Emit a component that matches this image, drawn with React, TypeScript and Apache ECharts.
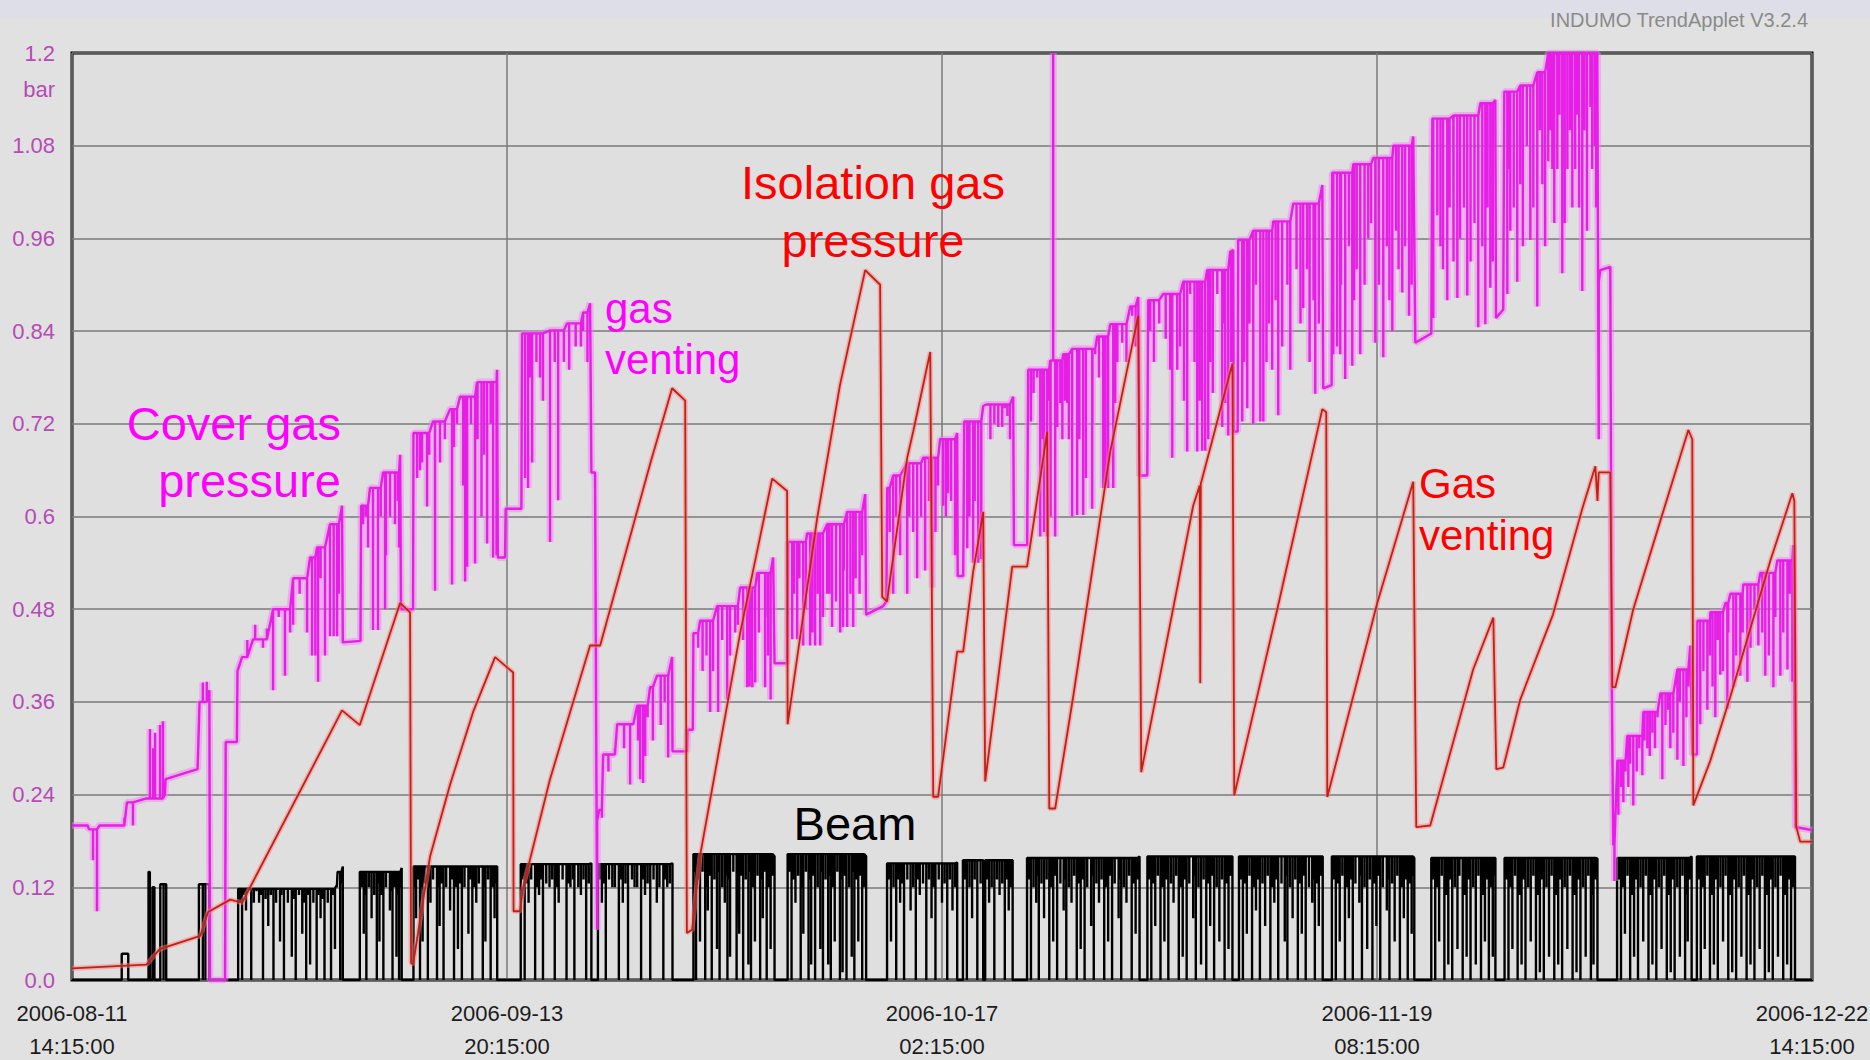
import React, { useEffect, useRef } from "react";
import * as echarts from "echarts";

// ---- axis labels ----
const xTickLabels = [
  "2006-08-11\n14:15:00",
  "2006-09-13\n20:15:00",
  "2006-10-17\n02:15:00",
  "2006-11-19\n08:15:00",
  "2006-12-22\n14:15:00",
];
const yTickLabels = ["0.0", "0.12", "0.24", "0.36", "0.48", "0.6", "0.72", "0.84", "0.96", "1.08", "1.2"];

// x values are days since 2006-08-11 14:15:00, y values are bar
// ---- Isolation gas pressure (red) ----
const isolation: [number, number][] = [
  [0, 0.015], [5.7, 0.02], [6.7, 0.04], [9.8, 0.057], [10.4, 0.088], [12.1, 0.104], [13.0, 0.1],
  [20.64, 0.349], [22.0, 0.33], [25.08, 0.488], [25.84, 0.476], [25.92, 0.022], [26.07, 0.02],
  [27.37, 0.16], [28.9, 0.253], [30.66, 0.347], [32.34, 0.418], [33.72, 0.398], [33.75, 0.089],
  [34.25, 0.089], [34.48, 0.12], [36.54, 0.26], [39.6, 0.433], [40.37, 0.433], [44.19, 0.668],
  [45.87, 0.766], [46.87, 0.75], [47.0, 0.061], [47.4, 0.065], [48.0, 0.16], [51.07, 0.449],
  [53.52, 0.649], [54.66, 0.633], [54.7, 0.331], [56.96, 0.598], [58.7, 0.77], [60.63, 0.919],
  [61.77, 0.9], [61.93, 0.496], [62.3, 0.49], [62.54, 0.52], [63.84, 0.676], [64.3, 0.71],
  [65.6, 0.813], [65.83, 0.237], [66.2, 0.237], [67.66, 0.425], [68.12, 0.425], [68.88, 0.528],
  [69.65, 0.606], [69.8, 0.257], [71.87, 0.535], [73.0, 0.535], [74.54, 0.71], [74.7, 0.222],
  [75.15, 0.222], [76.53, 0.367], [79.36, 0.684], [81.5, 0.86], [81.73, 0.269], [85.7, 0.614],
  [86.2, 0.64], [86.24, 0.384], [86.28, 0.642], [88.7, 0.798], [88.84, 0.239], [92.13, 0.48],
  [95.57, 0.739], [95.87, 0.735], [95.95, 0.237], [99.77, 0.488], [102.52, 0.645], [102.75, 0.198],
  [103.82, 0.2], [107.1, 0.402], [108.64, 0.469], [108.87, 0.273], [109.4, 0.275], [110.7, 0.363],
  [113.2, 0.473], [115.44, 0.61], [116.44, 0.665], [116.6, 0.62], [116.7, 0.657], [117.58, 0.657],
  [117.74, 0.379], [117.97, 0.379], [119.34, 0.48], [121.4, 0.594], [123.55, 0.712], [123.85, 0.7],
  [123.93, 0.226], [125.23, 0.284], [126.76, 0.367], [129.82, 0.543], [131.5, 0.63], [131.65, 0.62],
  [131.8, 0.198], [132.1, 0.179], [133, 0.179],
];

// ---- Cover gas pressure (magenta): running level and short excursions ----
const coverLevel: [number, number][] = [
  [0, 0.2], [1.2, 0.2], [1.3, 0.195], [2.1, 0.2], [4.2, 0.23], [5.7, 0.235], [7.1, 0.24], [7.15, 0.26],
  [9.6, 0.273], [9.75, 0.36], [10.5, 0.375], [10.55, 0], [11.7, 0], [11.75, 0.308], [12.6, 0.308],
  [12.65, 0.4], [13.0, 0.418], [13.84, 0.441], [15.37, 0.48], [16.9, 0.52], [18.2, 0.547], [18.73, 0.56],
  [19.72, 0.59], [20.64, 0.614], [20.7, 0.437], [22.05, 0.439],
  [22.1, 0.614], [22.78, 0.637], [23.78, 0.657], [25.08, 0.68], [25.15, 0.48], [26.07, 0.48],
  [26.1, 0.708], [27.6, 0.723], [28.9, 0.739], [29.66, 0.755], [30.96, 0.774], [32.49, 0.79],
  [32.55, 0.547], [33.1, 0.547], [33.15, 0.61], [34.35, 0.61],
  [34.4, 0.837], [36.54, 0.841], [37.84, 0.85], [39.07, 0.864], [39.6, 0.876], [39.7, 0.657],
  [39.98, 0.657], [40.1, 0.206], [40.3, 0.22], [40.6, 0.292], [41.67, 0.331], [43.2, 0.355],
  [44.19, 0.379], [44.72, 0.394], [45.87, 0.418], [45.9, 0.296], [47.0, 0.296], [47.05, 0.324],
  [47.45, 0.324], [47.5, 0.449], [48.01, 0.465], [49.31, 0.484], [51.07, 0.508], [52.37, 0.527],
  [53.59, 0.547], [53.7, 0.41], [54.66, 0.41],
  [54.74, 0.567], [56.19, 0.578], [57.72, 0.59], [59.25, 0.606], [60.63, 0.629], [60.7, 0.473],
  [62.0, 0.484], [62.25, 0.49], [62.31, 0.637], [62.77, 0.653], [63.84, 0.669], [65.06, 0.676],
  [66.36, 0.7], [67.66, 0.708], [67.7, 0.523], [68.12, 0.523], [68.2, 0.723], [69.65, 0.743],
  [69.9, 0.745], [71.94, 0.755], [72.0, 0.563], [73.01, 0.563],
  [73.09, 0.79], [74.77, 0.802], [75.76, 0.81], [76.45, 0.817], [78.36, 0.833], [79.36, 0.849],
  [80.89, 0.872], [81.5, 0.884], [81.6, 0.653], [82.19, 0.653],
  [82.26, 0.88], [83.41, 0.888], [84.94, 0.904], [86.77, 0.919], [88.53, 0.943], [88.76, 0.945],
  [88.8, 0.71], [89.1, 0.71], [89.14, 0.958], [90.29, 0.97], [91.82, 0.982], [93.35, 1.005],
  [95.57, 1.029], [95.64, 0.766], [96.28, 0.77], [96.33, 1.045], [97.94, 1.056], [99.46, 1.064],
  [101.0, 1.08], [102.52, 1.092], [102.68, 0.825], [103.9, 0.837], [103.98, 1.115], [105.58, 1.119],
  [107.65, 1.135], [108.79, 1.139], [108.85, 0.857], [109.4, 0.868], [109.48, 1.15], [110.7, 1.158],
  [112.0, 1.175], [112.84, 1.2], [116.59, 1.2], [116.65, 0.904], [116.82, 0.919], [117.58, 0.923],
  [117.7, 0.379], [117.81, 0.175], [118.12, 0.284], [118.88, 0.316], [120.11, 0.347], [121.41, 0.371],
  [122.71, 0.402], [123.7, 0.433], [123.85, 0.292], [124.2, 0.292], [124.24, 0.465], [125.23, 0.476],
  [126.38, 0.488], [126.76, 0.5], [127.75, 0.512], [129.05, 0.527], [130.35, 0.543], [131.57, 0.563],
  [131.73, 0.198], [133, 0.194],
];
const coverSpikes: [number, number][] = [
  [1.61, 0.155], [1.91, 0.089], [4.0, 0.21], [4.66, 0.2],
  [5.96, 0.325], [6.2, 0.3], [6.35, 0.32], [6.73, 0.33], [6.95, 0.335], [10.0, 0.385], [10.3, 0.386],
  [14.6, 0.43], [15.37, 0.375], [16.28, 0.394], [16.67, 0.45], [16.9, 0.46], [17.97, 0.45], [18.35, 0.42],
  [18.6, 0.42], [18.81, 0.386], [19.34, 0.42], [19.72, 0.445], [20.0, 0.445], [20.26, 0.445],
  [22.25, 0.59], [22.63, 0.56], [23.01, 0.453], [23.39, 0.453], [23.93, 0.48], [24.31, 0.6], [24.69, 0.59], [25.0, 0.56],
  [26.38, 0.65], [26.76, 0.67], [27.14, 0.613], [27.75, 0.504], [28.13, 0.67], [29.05, 0.512], [29.43, 0.72],
  [30.05, 0.516], [30.2, 0.535], [30.81, 0.539], [31.3, 0.6], [31.73, 0.565], [32.19, 0.547], [32.45, 0.55],
  [34.63, 0.65], [34.86, 0.637], [35.17, 0.67], [35.78, 0.78], [36.54, 0.567], [37.16, 0.621], [37.6, 0.8],
  [38.5, 0.82], [39.07, 0.84],
  [40.14, 0.065], [40.5, 0.21], [42.66, 0.253], [43.27, 0.31], [43.43, 0.26], [43.65, 0.255], [43.81, 0.29],
  [45.0, 0.33], [45.57, 0.288],
  [47.86, 0.43], [48.78, 0.347], [49.39, 0.347], [50.08, 0.363], [50.69, 0.45], [51.61, 0.379], [51.8, 0.38],
  [51.9, 0.4], [52.0, 0.379], [52.22, 0.385], [52.98, 0.379], [53.4, 0.363],
  [55.05, 0.441], [55.43, 0.441], [55.89, 0.433], [56.42, 0.433], [56.6, 0.45], [56.8, 0.433], [57.19, 0.433],
  [57.72, 0.5], [58.1, 0.457], [58.72, 0.45], [58.94, 0.457], [59.25, 0.457], [59.71, 0.457], [60.2, 0.5],
  [62.77, 0.5], [63.84, 0.5], [64.6, 0.52], [65.21, 0.53], [65.75, 0.508], [66.59, 0.614], [66.97, 0.63], [67.5, 0.55],
  [68.43, 0.559], [68.88, 0.54], [69.27, 0.54], [69.5, 0.545], [70.8, 0.716], [71.1, 0.716], [71.5, 0.73],
  [73.3, 0.723], [73.78, 0.78], [74.01, 0.574], [74.3, 0.58], [74.54, 0.574], [74.8, 0.6], [75.0, 1.2],
  [75.15, 0.574], [75.31, 0.716], [75.54, 0.747], [75.9, 0.75], [76.07, 0.747], [76.45, 0.6], [76.83, 0.602],
  [77.29, 0.602], [77.98, 0.61], [78.21, 0.81], [78.82, 0.637], [79.0, 0.64], [79.2, 0.637], [79.59, 0.637],
  [79.74, 0.747], [80.28, 0.825], [81.04, 0.86],
  [82.42, 0.84], [83.94, 0.79], [84.1, 0.676], [84.48, 0.79], [85.24, 0.684], [85.47, 0.888], [86.01, 0.684],
  [86.39, 0.685], [86.62, 0.685], [86.85, 0.7], [87.54, 0.888], [87.92, 0.716], [88.15, 0.747], [88.38, 0.705],
  [89.45, 0.723], [89.83, 0.74], [90.29, 0.72], [90.83, 0.723], [91.06, 0.723], [91.74, 0.79], [92.2, 0.731],
  [93.12, 0.79], [94.11, 0.87], [94.6, 0.8], [95.03, 0.759],
  [96.41, 0.81], [96.7, 0.82], [96.94, 0.81], [97.32, 0.778], [97.86, 0.795], [98.47, 0.81], [99.08, 0.96],
  [99.62, 0.825], [100.23, 0.806], [100.92, 0.84], [101.68, 0.89], [102.2, 0.86],
  [104.05, 0.857], [104.36, 0.99], [105.12, 0.88], [105.89, 0.883], [106.65, 0.886], [107.49, 0.845],
  [108.03, 0.849], [108.41, 0.896],
  [109.71, 0.888], [109.94, 0.97], [110.47, 0.904], [110.7, 1.03], [111.47, 0.958], [112.0, 0.872],
  [112.39, 1.03], [112.84, 1.06], [113.15, 1.05], [113.53, 1.05], [113.91, 0.915], [114.3, 1.05],
  [114.68, 1.0], [114.9, 1.05], [115.06, 1.12], [115.44, 0.892], [116.06, 1.13], [116.4, 1.08],
  [116.7, 0.7], [117.9, 0.128],
  [118.2, 0.214], [118.58, 0.23], [118.96, 0.25], [119.34, 0.226], [120.03, 0.265], [120.41, 0.3], [120.8, 0.32],
  [121.56, 0.26], [122.17, 0.3], [122.71, 0.285], [123.17, 0.277],
  [124.46, 0.331], [125.0, 0.35], [125.61, 0.34], [125.99, 0.395], [126.53, 0.351], [126.99, 0.379],
  [127.52, 0.394], [128.06, 0.386], [128.9, 0.433], [129.43, 0.394], [130.05, 0.379], [130.58, 0.394],
  [131.12, 0.402], [131.5, 0.386],
];
// shorter, denser dips within the running periods
const coverFlicker: [number, number][] = [
  [13.4, 0.44], [14.0, 0.46], [14.9, 0.455], [15.8, 0.47], [17.4, 0.5], [19.0, 0.52], [20.4, 0.5],
  [22.45, 0.6], [23.6, 0.6], [24.0, 0.55], [24.9, 0.62],
  [26.6, 0.66], [27.3, 0.68], [28.5, 0.7], [29.2, 0.69], [29.9, 0.64], [30.5, 0.72], [31.0, 0.7], [31.5, 0.68], [32.0, 0.72],
  [35.0, 0.78], [35.5, 0.8], [36.0, 0.75], [36.9, 0.8], [38.0, 0.79], [38.9, 0.82], [39.4, 0.8],
  [41.0, 0.27], [41.5, 0.3], [42.2, 0.3], [42.9, 0.33], [44.0, 0.34], [44.4, 0.31], [45.3, 0.36],
  [48.2, 0.4], [48.5, 0.42], [49.0, 0.4], [49.7, 0.44], [50.3, 0.42], [50.9, 0.46], [51.3, 0.44], [52.5, 0.45],
  [53.0, 0.47], [53.2, 0.42],
  [55.2, 0.5], [55.6, 0.52], [56.1, 0.48], [57.0, 0.5], [57.4, 0.47], [57.9, 0.5], [58.4, 0.49], [59.0, 0.53],
  [59.5, 0.5], [59.9, 0.52], [60.4, 0.55],
  [62.5, 0.58], [63.0, 0.6], [63.3, 0.55], [64.0, 0.6], [64.3, 0.58], [64.9, 0.6], [65.5, 0.62], [66.0, 0.58],
  [66.2, 0.64], [66.8, 0.6], [67.2, 0.62],
  [68.6, 0.6], [69.0, 0.62], [70.2, 0.7], [70.5, 0.72], [71.3, 0.74], [71.7, 0.7],
  [73.5, 0.76], [74.2, 0.7], [74.7, 0.75], [75.7, 0.7], [76.2, 0.7], [77.0, 0.7], [77.5, 0.65], [78.0, 0.72],
  [78.5, 0.78], [79.9, 0.8], [80.6, 0.8], [81.3, 0.82],
  [82.7, 0.8], [83.1, 0.85], [83.6, 0.83], [84.7, 0.82], [85.0, 0.75], [85.8, 0.8], [86.2, 0.75], [87.0, 0.8],
  [87.2, 0.76], [88.0, 0.85], [88.6, 0.8],
  [89.6, 0.8], [90.0, 0.85], [90.5, 0.9], [91.3, 0.8], [91.5, 0.85], [92.0, 0.88], [92.5, 0.82], [92.9, 0.9],
  [93.6, 0.92], [93.9, 0.85], [94.4, 0.92], [94.9, 0.88], [95.3, 0.85],
  [97.0, 0.9], [97.6, 0.95], [98.0, 0.88], [98.2, 0.92], [98.8, 0.9], [99.3, 0.98], [99.9, 0.9], [100.5, 0.95],
  [100.7, 0.88], [101.2, 0.97], [101.4, 0.92], [101.9, 0.95], [102.4, 0.9],
  [104.6, 0.95], [104.8, 0.92], [105.3, 1.0], [105.6, 0.93], [106.1, 0.96], [106.4, 1.0], [106.9, 0.93],
  [107.2, 0.98], [107.8, 0.95], [108.2, 1.0], [108.6, 0.93],
  [109.8, 1.05], [110.2, 1.0], [110.9, 0.95], [111.2, 1.08], [111.7, 1.0], [112.2, 1.1], [112.6, 0.95], [113.0, 1.1],
  [113.3, 0.98], [113.7, 1.12], [114.1, 0.98], [114.5, 1.1], [115.2, 1.0], [115.6, 1.1], [115.8, 0.97], [116.2, 1.05], [116.5, 1.0],
  [118.4, 0.25], [118.75, 0.27], [119.1, 0.28], [119.6, 0.27], [119.8, 0.3], [120.2, 0.31], [120.6, 0.29], [121.0, 0.3],
  [121.2, 0.34], [121.8, 0.33], [122.0, 0.35], [122.4, 0.32], [122.9, 0.36], [123.4, 0.34], [123.55, 0.38],
  [124.7, 0.4], [125.2, 0.42], [125.4, 0.38], [125.8, 0.44], [126.2, 0.4], [126.6, 0.45], [127.2, 0.42], [127.7, 0.45],
  [128.3, 0.43], [128.6, 0.48], [129.2, 0.45], [129.7, 0.42], [130.2, 0.47], [130.8, 0.45], [131.3, 0.5],
];

// ---- Beam (black): running level, deep drop-outs and shallow flicker ----
const beamLevel: [number, number][] = [
  [0, 0], [3.8, 0], [3.8, 0.034], [4.3, 0.034], [4.3, 0], [5.85, 0], [5.85, 0.14], [5.95, 0.14], [5.95, 0],
  [6.15, 0], [6.15, 0.12], [6.3, 0.12], [6.3, 0], [6.75, 0], [6.75, 0.124], [7.2, 0.124], [7.2, 0],
  [9.7, 0], [9.7, 0.124], [10.5, 0.124], [10.5, 0], [12.7, 0], [12.7, 0.118], [20.2, 0.122], [20.3, 0.14],
  [20.7, 0.147], [20.7, 0], [22.0, 0], [22.0, 0.14], [25.2, 0.145], [25.2, 0], [26.1, 0], [26.1, 0.147],
  [32.5, 0.147], [32.5, 0], [34.3, 0], [34.3, 0.15], [39.7, 0.151], [39.7, 0], [40.2, 0], [40.2, 0.15],
  [45.9, 0.151], [45.9, 0], [47.5, 0], [47.5, 0.163], [53.7, 0.16], [53.7, 0], [54.7, 0], [54.7, 0.163],
  [60.7, 0.16], [60.7, 0], [62.3, 0], [62.3, 0.151], [67.66, 0.152], [67.66, 0], [68.1, 0], [68.1, 0.155],
  [69.65, 0.155], [69.65, 0], [69.8, 0], [69.8, 0.155], [71.9, 0.155], [71.9, 0], [73.0, 0], [73.0, 0.158],
  [81.6, 0.16], [81.6, 0], [82.2, 0], [82.2, 0.16], [88.7, 0.16], [88.7, 0], [89.2, 0], [89.2, 0.16],
  [95.6, 0.16], [95.6, 0], [96.3, 0], [96.3, 0.16], [102.6, 0.158], [102.6, 0], [103.9, 0], [103.9, 0.158],
  [108.8, 0.158], [108.8, 0], [109.5, 0], [109.5, 0.158], [116.6, 0.157], [116.6, 0], [118.1, 0],
  [118.1, 0.158], [123.8, 0.16], [123.8, 0], [124.2, 0], [124.2, 0.16], [131.7, 0.16], [131.7, 0], [133, 0],
];
const beamDrops: [number, number][] = [
  [7.0, 0], [10.0, 0], [10.2, 0],
  [13.0, 0], [13.3, 0.09], [13.7, 0], [14.3, 0.1], [14.6, 0], [15.0, 0.07], [15.4, 0], [15.9, 0.05], [16.2, 0],
  [16.8, 0.03], [17.1, 0], [17.6, 0.06], [17.9, 0], [18.2, 0.02], [18.7, 0], [19.0, 0.08], [19.3, 0], [19.8, 0],
  [20.1, 0.04], [20.5, 0],
  [22.3, 0.06], [22.5, 0], [22.9, 0.08], [23.3, 0], [23.5, 0.05], [23.8, 0], [24.3, 0.09], [24.5, 0], [24.8, 0.03], [25.0, 0],
  [26.3, 0.08], [26.6, 0], [26.8, 0.05], [27.2, 0], [27.4, 0.1], [27.9, 0], [28.1, 0.07], [28.4, 0], [28.9, 0.09],
  [29.2, 0], [29.5, 0.04], [29.8, 0], [30.3, 0.06], [30.6, 0], [30.9, 0.1], [31.4, 0], [31.6, 0.05], [32.0, 0], [32.3, 0.08],
  [34.6, 0], [34.9, 0.1], [35.4, 0], [35.7, 0.11], [36.0, 0], [36.5, 0.12], [36.9, 0], [37.2, 0.1], [37.8, 0],
  [38.1, 0.12], [38.4, 0], [38.9, 0.11], [39.3, 0],
  [40.5, 0.1], [40.8, 0], [41.3, 0.12], [41.8, 0], [42.1, 0.1], [42.5, 0], [43.0, 0.12], [43.5, 0], [43.8, 0.11],
  [44.2, 0], [44.7, 0.1], [45.2, 0], [45.5, 0.12],
  [47.7, 0], [48.0, 0.05], [48.4, 0], [48.6, 0.09], [48.9, 0], [49.3, 0.04], [49.5, 0], [49.9, 0.1], [50.1, 0],
  [50.3, 0.03], [50.8, 0], [51.0, 0.06], [51.3, 0], [51.7, 0.02], [51.9, 0], [52.2, 0.05], [52.6, 0], [52.8, 0.08],
  [53.1, 0], [53.4, 0.04],
  [55.0, 0], [55.3, 0.1], [55.7, 0], [55.9, 0.06], [56.3, 0], [56.5, 0.02], [56.8, 0], [57.2, 0.04], [57.4, 0],
  [57.8, 0.02], [58.0, 0], [58.3, 0.05], [58.7, 0], [58.9, 0.01], [59.2, 0], [59.6, 0.03], [59.8, 0], [60.1, 0.05], [60.4, 0],
  [62.6, 0.05], [63.0, 0], [63.3, 0.1], [63.6, 0], [64.1, 0.09], [64.5, 0], [64.8, 0.11], [65.3, 0], [65.7, 0.08],
  [66.0, 0], [66.5, 0.1], [66.9, 0], [67.3, 0.09],
  [68.4, 0], [68.8, 0.08], [69.2, 0], [70.1, 0.1], [70.5, 0], [70.9, 0.11], [71.3, 0], [71.6, 0.09],
  [73.3, 0], [73.7, 0.1], [73.9, 0], [74.3, 0.08], [74.7, 0], [75.0, 0.05], [75.3, 0], [75.8, 0.09], [76.0, 0],
  [76.4, 0.1], [76.8, 0], [77.1, 0.04], [77.4, 0], [77.9, 0.07], [78.1, 0], [78.5, 0.1], [78.9, 0], [79.2, 0.05],
  [79.5, 0], [80.0, 0.08], [80.2, 0], [80.6, 0.1], [81.0, 0], [81.3, 0.06],
  [82.5, 0], [82.8, 0.07], [83.2, 0], [83.5, 0.05], [83.8, 0], [84.2, 0.1], [84.6, 0], [84.9, 0.03], [85.2, 0],
  [85.7, 0.08], [85.9, 0], [86.3, 0.02], [86.7, 0], [87.0, 0.07], [87.3, 0], [87.7, 0.05], [88.1, 0], [88.4, 0.04],
  [89.5, 0], [89.8, 0.06], [90.2, 0], [90.5, 0.09], [90.8, 0], [91.2, 0.07], [91.6, 0], [91.9, 0.1], [92.2, 0],
  [92.7, 0.05], [92.9, 0], [93.3, 0.08], [93.7, 0], [94.0, 0.06], [94.3, 0], [94.8, 0.1], [95.0, 0], [95.3, 0.07],
  [96.6, 0], [96.9, 0.05], [97.3, 0], [97.6, 0.08], [97.9, 0], [98.4, 0.1], [98.6, 0], [99.0, 0.04], [99.4, 0],
  [99.7, 0.07], [100.0, 0], [100.5, 0.09], [100.7, 0], [101.1, 0.05], [101.5, 0], [101.8, 0.08], [102.1, 0], [102.4, 0.06],
  [104.2, 0], [104.5, 0.05], [104.9, 0], [105.2, 0.02], [105.5, 0], [105.9, 0.04], [106.3, 0], [106.6, 0.03],
  [106.9, 0], [107.3, 0.02], [107.7, 0], [108.0, 0.05], [108.3, 0], [108.6, 0.03],
  [109.8, 0], [110.1, 0.04], [110.5, 0], [110.8, 0.02], [111.1, 0], [111.5, 0.05], [111.9, 0], [112.2, 0.01],
  [112.5, 0], [112.9, 0.03], [113.3, 0], [113.6, 0.02], [113.9, 0], [114.3, 0.04], [114.7, 0], [115.0, 0.01],
  [115.3, 0], [115.7, 0.03], [116.1, 0], [116.3, 0.02],
  [118.4, 0], [118.7, 0.06], [119.1, 0], [119.4, 0.03], [119.7, 0], [120.1, 0.05], [120.5, 0], [120.8, 0.02],
  [121.1, 0], [121.5, 0.04], [121.9, 0], [122.2, 0.01], [122.5, 0], [122.9, 0.03], [123.3, 0], [123.5, 0.05],
  [124.5, 0], [124.8, 0.04], [125.2, 0], [125.5, 0.02], [125.8, 0], [126.2, 0.05], [126.6, 0], [126.9, 0.01],
  [127.2, 0], [127.6, 0.03], [128.0, 0], [128.3, 0.02], [128.6, 0], [129.0, 0.04], [129.4, 0], [129.7, 0.01],
  [130.0, 0], [130.4, 0.03], [130.8, 0], [131.1, 0.02], [131.4, 0],
];
const beamFlicker: [number, number][] = [
  [12.85, 0.1], [13.15, 0.11], [13.5, 0.12], [13.9, 0.1], [14.1, 0.115], [14.45, 0.11], [14.8, 0.105], [15.2, 0.11],
  [15.6, 0.1], [16.0, 0.11], [16.5, 0.1], [16.95, 0.105], [17.35, 0.11], [17.75, 0.1], [18.05, 0.11], [18.45, 0.1],
  [18.85, 0.11], [19.15, 0.105], [19.55, 0.1], [19.95, 0.11], [20.25, 0.12], [20.6, 0.125],
  [22.15, 0.12], [22.4, 0.11], [22.7, 0.12], [23.1, 0.11], [23.4, 0.125], [23.65, 0.11], [24.0, 0.12], [24.4, 0.115],
  [24.65, 0.12], [24.9, 0.11], [25.1, 0.12],
  [26.2, 0.12], [26.45, 0.13], [26.7, 0.12], [26.95, 0.125], [27.3, 0.12], [27.6, 0.13], [28.0, 0.12], [28.25, 0.125],
  [28.6, 0.12], [29.05, 0.13], [29.35, 0.12], [29.65, 0.125], [30.0, 0.12], [30.45, 0.13], [30.75, 0.12], [31.1, 0.125],
  [31.5, 0.12], [31.8, 0.13], [32.15, 0.12], [32.4, 0.125],
  [34.45, 0.13], [34.75, 0.125], [35.1, 0.13], [35.55, 0.12], [35.85, 0.13], [36.25, 0.125], [36.7, 0.13], [37.05, 0.12],
  [37.5, 0.13], [37.95, 0.125], [38.3, 0.13], [38.7, 0.12], [39.1, 0.13], [39.5, 0.125],
  [40.35, 0.13], [40.65, 0.125], [41.05, 0.13], [41.5, 0.12], [41.95, 0.13], [42.3, 0.125], [42.8, 0.13], [43.2, 0.12],
  [43.65, 0.13], [44.0, 0.125], [44.45, 0.13], [44.9, 0.12], [45.35, 0.13], [45.7, 0.125],
  [47.6, 0.14], [47.85, 0.13], [48.2, 0.14], [48.5, 0.12], [48.75, 0.135], [49.1, 0.13], [49.4, 0.14], [49.7, 0.12],
  [50.0, 0.135], [50.2, 0.13], [50.55, 0.14], [50.95, 0.12], [51.15, 0.135], [51.5, 0.13], [51.8, 0.14], [52.05, 0.12],
  [52.4, 0.135], [52.7, 0.13], [52.95, 0.14], [53.25, 0.12], [53.55, 0.135],
  [54.85, 0.14], [55.15, 0.13], [55.5, 0.135], [55.8, 0.12], [56.1, 0.14], [56.4, 0.13], [56.65, 0.135], [57.0, 0.12],
  [57.3, 0.14], [57.6, 0.13], [57.9, 0.135], [58.15, 0.12], [58.5, 0.14], [58.8, 0.13], [59.05, 0.135], [59.4, 0.12],
  [59.7, 0.14], [59.95, 0.13], [60.25, 0.135], [60.55, 0.12],
  [62.45, 0.13], [62.8, 0.12], [63.15, 0.13], [63.45, 0.125], [63.85, 0.13], [64.3, 0.12], [64.65, 0.13], [65.05, 0.125],
  [65.5, 0.13], [65.85, 0.12], [66.25, 0.13], [66.7, 0.125], [67.1, 0.13], [67.5, 0.12],
  [68.25, 0.13], [68.6, 0.12], [69.0, 0.13], [69.45, 0.125], [69.95, 0.13], [70.3, 0.12], [70.7, 0.13], [71.1, 0.125],
  [71.45, 0.13], [71.75, 0.12],
  [73.15, 0.13], [73.5, 0.12], [73.8, 0.135], [74.1, 0.125], [74.5, 0.13], [74.85, 0.12], [75.15, 0.135], [75.55, 0.125],
  [75.9, 0.13], [76.2, 0.12], [76.6, 0.135], [76.95, 0.125], [77.25, 0.13], [77.6, 0.12], [78.0, 0.135], [78.3, 0.125],
  [78.7, 0.13], [79.05, 0.12], [79.35, 0.135], [79.7, 0.125], [80.1, 0.13], [80.4, 0.12], [80.8, 0.135], [81.15, 0.125],
  [81.45, 0.13],
  [82.35, 0.13], [82.65, 0.125], [83.0, 0.135], [83.35, 0.12], [83.65, 0.13], [84.0, 0.125], [84.4, 0.135], [84.75, 0.12],
  [85.05, 0.13], [85.4, 0.125], [85.8, 0.135], [86.1, 0.12], [86.5, 0.13], [86.85, 0.125], [87.15, 0.135], [87.5, 0.12],
  [87.9, 0.13], [88.25, 0.125], [88.55, 0.135],
  [89.35, 0.13], [89.65, 0.125], [90.0, 0.135], [90.35, 0.12], [90.65, 0.13], [91.0, 0.125], [91.4, 0.135], [91.75, 0.12],
  [92.05, 0.13], [92.45, 0.125], [92.8, 0.135], [93.1, 0.12], [93.5, 0.13], [93.85, 0.125], [94.15, 0.135], [94.55, 0.12],
  [94.9, 0.13], [95.15, 0.125], [95.45, 0.135],
  [96.45, 0.13], [96.75, 0.125], [97.1, 0.135], [97.45, 0.12], [97.75, 0.13], [98.1, 0.125], [98.5, 0.135], [98.8, 0.12],
  [99.2, 0.13], [99.55, 0.125], [99.85, 0.135], [100.2, 0.12], [100.6, 0.13], [100.9, 0.125], [101.3, 0.135],
  [101.65, 0.12], [101.95, 0.13], [102.25, 0.125], [102.5, 0.135],
  [104.05, 0.13], [104.35, 0.12], [104.7, 0.135], [105.05, 0.11], [105.35, 0.13], [105.7, 0.12], [106.05, 0.135],
  [106.45, 0.11], [106.75, 0.13], [107.1, 0.12], [107.5, 0.135], [107.85, 0.11], [108.15, 0.13], [108.45, 0.12], [108.7, 0.135],
  [109.65, 0.13], [109.95, 0.12], [110.3, 0.135], [110.65, 0.11], [110.95, 0.13], [111.3, 0.12], [111.7, 0.135],
  [112.05, 0.11], [112.35, 0.13], [112.7, 0.12], [113.1, 0.135], [113.45, 0.11], [113.75, 0.13], [114.1, 0.12],
  [114.5, 0.135], [114.85, 0.11], [115.15, 0.13], [115.5, 0.12], [115.9, 0.135], [116.2, 0.11], [116.45, 0.13],
  [118.25, 0.13], [118.55, 0.12], [118.9, 0.135], [119.25, 0.11], [119.55, 0.13], [119.9, 0.12], [120.3, 0.135],
  [120.65, 0.11], [120.95, 0.13], [121.3, 0.12], [121.7, 0.135], [122.05, 0.11], [122.35, 0.13], [122.7, 0.12],
  [123.1, 0.135], [123.4, 0.11], [123.65, 0.13],
  [124.35, 0.13], [124.65, 0.12], [125.0, 0.135], [125.35, 0.11], [125.65, 0.13], [126.0, 0.12], [126.4, 0.135],
  [126.75, 0.11], [127.05, 0.13], [127.4, 0.12], [127.8, 0.135], [128.15, 0.11], [128.45, 0.13], [128.8, 0.12],
  [129.2, 0.135], [129.55, 0.11], [129.85, 0.13], [130.2, 0.12], [130.6, 0.135], [130.95, 0.11], [131.25, 0.13], [131.55, 0.12],
];

// merge a running level with short vertical excursions (each excursion leaves and returns to the current level)
function withExcursions(level: [number, number][], spikes: [number, number][]) {
  const sorted = spikes.slice().sort((a, b) => a[0] - b[0]);
  const out: [number, number][] = [];
  let i = 0;
  let j = 0;
  let cur = level[0][1];
  while (i < level.length || j < sorted.length) {
    if (j >= sorted.length || (i < level.length && level[i][0] <= sorted[j][0])) {
      out.push(level[i]);
      cur = level[i][1];
      i++;
    } else {
      const [d, v] = sorted[j];
      out.push([d, cur], [d, v], [d, cur]);
      j++;
    }
  }
  return out;
}

const SANS = "'Liberation Sans', Arial, sans-serif";

export default function App() {
  const ref = useRef<HTMLDivElement>(null);
  useEffect(() => {
    const chart = echarts.init(ref.current as HTMLDivElement, null, { renderer: "svg", width: 1870, height: 1060 });
    const beamData = withExcursions(beamLevel, beamDrops.concat(beamFlicker));
    const coverData = withExcursions(coverLevel, coverSpikes.concat(coverFlicker));
    chart.setOption({
      animation: false,
      backgroundColor: "#e1e1e1",
      grid: {
        left: 72,
        right: 58,
        top: 53,
        bottom: 80,
        show: true,
        containLabel: false,
        outerBoundsMode: "none",
        borderColor: "#000",
        borderWidth: 3,
        backgroundColor: "#dfdfdf",
      },
      xAxis: {
        type: "value",
        min: 0,
        max: 133,
        interval: 33.25,
        axisLine: { show: false },
        axisTick: { show: false },
        splitLine: { show: true, lineStyle: { color: "#7a7a7a", width: 1.5 } },
        axisLabel: {
          formatter: (v: number) => xTickLabels[Math.round(v / 33.25)] ?? "",
          fontSize: 22,
          lineHeight: 33,
          color: "#1c1c1c",
          fontFamily: SANS,
          margin: 17,
          showMinLabel: true,
          showMaxLabel: true,
          hideOverlap: false,
        },
      },
      yAxis: {
        type: "value",
        min: 0,
        max: 1.2,
        interval: 0.12,
        axisLine: { show: false },
        axisTick: { show: false },
        splitLine: { show: true, lineStyle: { color: "#7a7a7a", width: 1.5 } },
        axisLabel: {
          formatter: (v: number) => yTickLabels[Math.round(v / 0.12)] ?? "",
          fontSize: 22,
          color: "#b64ab6",
          fontFamily: SANS,
          margin: 17,
          showMinLabel: true,
          showMaxLabel: true,
        },
      },
      series: [
        {
          name: "Beam",
          type: "line",
          data: beamData,
          symbol: "none",
          silent: true,
          z: 2,
          lineStyle: { color: "#000000", width: 2.4 },
        },
        {
          name: "Cover gas pressure halo",
          type: "line",
          data: coverData,
          symbol: "none",
          silent: true,
          z: 3,
          lineStyle: { color: "rgba(240,130,240,0.5)", width: 7 },
        },
        {
          name: "Cover gas pressure",
          type: "line",
          data: coverData,
          symbol: "none",
          silent: true,
          z: 4,
          lineStyle: { color: "#e61ee6", width: 2.4 },
        },
        {
          name: "Isolation gas pressure halo",
          type: "line",
          data: isolation,
          symbol: "none",
          silent: true,
          z: 5,
          lineStyle: { color: "rgba(250,130,130,0.5)", width: 5 },
        },
        {
          name: "Isolation gas pressure",
          type: "line",
          data: isolation,
          symbol: "none",
          silent: true,
          z: 6,
          lineStyle: { color: "#c02016", width: 1.8 },
        },
      ],
      graphic: [
        { type: "rect", shape: { x: 0, y: 0, width: 1870, height: 18 }, style: { fill: "#dedee8" }, silent: true },
        {
          type: "text",
          x: 1808,
          y: 20,
          style: { text: "INDUMO TrendApplet V3.2.4", fill: "#8a8a8a", font: `20px ${SANS}`, textAlign: "right", textVerticalAlign: "middle" },
        },
        {
          type: "text",
          x: 55,
          y: 89,
          style: { text: "bar", fill: "#b64ab6", font: `22px ${SANS}`, textAlign: "right", textVerticalAlign: "middle" },
        },
        {
          type: "text",
          x: 341,
          y: 452,
          z: 10,
          style: { text: "Cover gas\npressure", fill: "#ff00ff", font: `47px ${SANS}`, lineHeight: 57, textAlign: "right", textVerticalAlign: "middle" },
        },
        {
          type: "text",
          x: 605,
          y: 334,
          z: 10,
          style: { text: "gas\nventing", fill: "#ff00ff", font: `42px ${SANS}`, lineHeight: 51, textAlign: "left", textVerticalAlign: "middle" },
        },
        {
          type: "text",
          x: 873,
          y: 211,
          z: 10,
          style: { text: "Isolation gas\npressure", fill: "#ff0000", font: `47px ${SANS}`, lineHeight: 58, textAlign: "center", textVerticalAlign: "middle" },
        },
        {
          type: "text",
          x: 855,
          y: 823,
          z: 10,
          style: { text: "Beam", fill: "#000000", font: `47px ${SANS}`, textAlign: "center", textVerticalAlign: "middle" },
        },
        {
          type: "text",
          x: 1419,
          y: 509,
          z: 10,
          style: { text: "Gas\nventing", fill: "#ff0000", font: `42px ${SANS}`, lineHeight: 52, textAlign: "left", textVerticalAlign: "middle" },
        },
      ],
    });
    return () => chart.dispose();
  }, []);
  return <div ref={ref} style={{ position: "fixed", left: 0, top: 0, width: 1870, height: 1060 }} />;
}
